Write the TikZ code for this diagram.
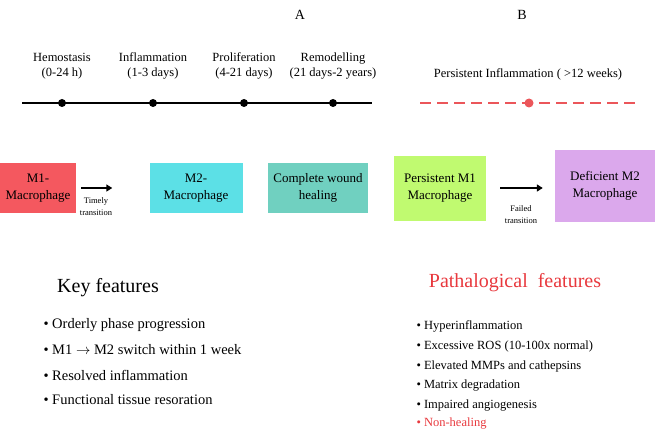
\documentclass[tikz,border=0pt]{standalone}
\usepackage{fontspec}
\setmainfont{Liberation Serif}
\newfontfamily\figserif{Liberation Serif}
\usetikzlibrary{arrows.meta, positioning}
\definecolor{monecolor}{HTML}{F4585F}
\definecolor{mtwocolor}{HTML}{5CE0E6}
\definecolor{healcolor}{HTML}{70D0C0}
\definecolor{persistcolor}{HTML}{C0FA70}
\definecolor{deficolor}{HTML}{DBA8EC}
\definecolor{pathred}{HTML}{E8383D}

\begin{document}
\begin{tikzpicture}[x=1pt, y=-1pt,
    every node/.style={font=\figserif},
    phase/.style={font=\figserif\fontsize{12.5}{14.5}\selectfont, align=center},
    cell/.style={draw=none, minimum height=50pt, font=\figserif\fontsize{13}{17}\selectfont, align=center, inner sep=1pt},
    switcharrow/.style={-{Triangle[length=6pt,width=7pt]}, line width=2pt},
    note/.style={font=\figserif\fontsize{8.5}{12}\selectfont, align=center},
    head/.style={font=\figserif\fontsize{20}{24}\selectfont},
    item/.style={font=\figserif\fontsize{14.5}{17}\selectfont, anchor=west},
    pitem/.style={font=\figserif\fontsize{12.5}{14}\selectfont, anchor=west}
]
    \useasboundingbox (0,0) rectangle (658,433);

    % Panel letters
    \node[font=\figserif\fontsize{14}{16}\selectfont] (lettera) at (300,15) {A};
    \node[font=\figserif\fontsize{14}{16}\selectfont] (letterb) at (522,15) {B};

    % Normal timeline
    \coordinate (tstart) at (22,103);
    \coordinate (tend) at (372,103);
    \draw[line width=2.5pt] (tstart) -- (tend);
    \foreach \px/\name/\range in {62/Hemostasis/(0-24 h), 153/Inflammation/(1-3 days), 244/Proliferation/(4-21 days), 333/Remodelling/(21 days-2 years)} {
        \fill (\px,103) circle (4pt);
        \node[phase] at (\px,66) {\name\\\range};
    }

    % Chronic timeline
    \node[phase] (chronic) at (528,74) {Persistent Inflammation ( >12 weeks)};
    \coordinate (cstart) at (420,103);
    \coordinate (cend) at (640,103);
    \draw[pathred!85, line width=2.5pt, dash pattern=on 11pt off 6pt] (cstart) -- (cend);
    \fill[pathred!85] (529,103) circle (4.5pt);

    % Cells, normal healing
    \node[cell, fill=monecolor, minimum width=76pt] (mone) at (38,188) {M1-\\Macrophage};
    \node[cell, fill=mtwocolor, minimum width=93pt] (mtwo) at (196,188) {M2-\\Macrophage};
    \node[cell, fill=healcolor, minimum width=100pt] (heal) at (318,188) {Complete wound\\healing};
    \draw[switcharrow] ([xshift=5pt]mone.east) -- ([xshift=-37pt]mtwo.west);
    \node[note] (timely) at (96,207) {Timely\\transition};

    % Cells, chronic wound
    \node[cell, fill=persistcolor, minimum width=92pt, minimum height=65pt] (pmone) at (440,188) {Persistent M1\\Macrophage};
    \node[cell, fill=deficolor, minimum width=100pt, minimum height=72pt] (dmtwo) at (605,186) {Deficient M2\\Macrophage};
    \draw[switcharrow] ([xshift=14pt]pmone.east) -- ([xshift=-12pt]dmtwo.west |- pmone.east);
    \node[note] (failed) at (521,215) {Failed\\transition};

    % Key features
    \node[head] (keyhead) at (108,288) {Key features};
    \foreach \ty/\txt in {325/Orderly phase progression, 350/{M1 $\rightarrow$ M2 switch within 1 week}, 375/Resolved inflammation, 400/Functional tissue resoration} {
        \node[item] at (40,\ty) {\textbullet\ \txt};
    }

    % Pathological features
    \node[head, text=pathred] (pathhead) at (515,283) {Pathalogical\ \ features};
    \foreach \ty/\txt in {326/Hyperinflammation, 346/Excessive ROS (10-100x normal), 366/Elevated MMPs and cathepsins, 386/Matrix degradation, 406/Impaired angiogenesis} {
        \node[pitem] at (413,\ty) {\textbullet\ \txt};
    }
    \node[pitem, text=pathred] (nonheal) at (413,424) {\textbullet\ Non-healing};
\end{tikzpicture}
\end{document}
